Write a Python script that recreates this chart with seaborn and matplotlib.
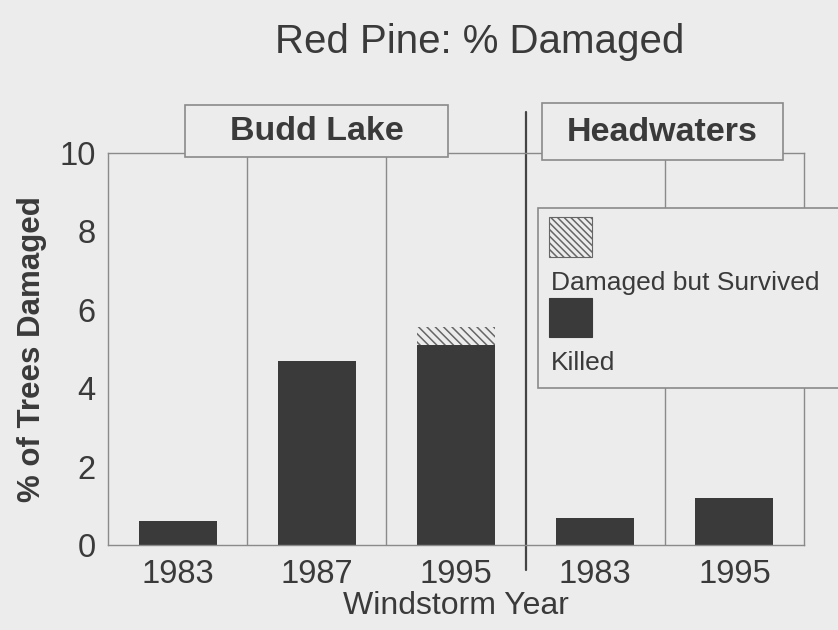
import numpy as np
import pandas as pd
import matplotlib
matplotlib.use("Agg")
import matplotlib.pyplot as plt
import seaborn as sns
from matplotlib.patches import Rectangle

# data
sites = ['Budd Lake', 'Budd Lake', 'Budd Lake', 'Headwaters', 'Headwaters']
years = ['1983', '1987', '1995', '1983', '1995']
killed = [0.6, 4.7, 5.1, 0.7, 1.2]
survived = [0.0, 0.0, 0.45, 0.0, 0.0]

df = pd.DataFrame({'site': sites, 'year': years, 'killed': killed, 'survived': survived})
df['key'] = df['site'] + ' ' + df['year']
df['total'] = df['killed'] + df['survived']

sns.set_style("white")
plt.rcParams['font.family'] = ['Liberation Sans', 'DejaVu Sans']
plt.rcParams['hatch.linewidth'] = 1.1

bg = '#ececec'
bar_col = '#3a3a3a'
line_col = '#8a8a8a'
txt_col = '#3a3a3a'
hatch_col = '#666666'

W, H = 838, 630
def fx(x):
    return x / W
def fy(y):
    return 1 - y / H

fig = plt.figure(figsize=(8.38, 6.3), dpi=100, facecolor=bg)
ax = fig.add_axes([fx(108), fy(545), fx(804) - fx(108), fy(153) - fy(545)])
ax.set_facecolor(bg)

# hatched part = total height, killed bar drawn over it
sns.barplot(data=df, x='key', y='total', color=bg, saturation=1, edgecolor=hatch_col,
            hatch='\\\\\\\\', linewidth=0, width=0.56, ax=ax)
sns.barplot(data=df, x='key', y='killed', color=bar_col, saturation=1,
            linewidth=0, width=0.56, ax=ax)

ax.set_xlim(-0.5, len(df) - 0.5)
ax.set_ylim(0, 10)
ax.set_yticks(np.arange(0, 11, 2))
ax.set_xticks(range(len(df)))
ax.set_xticklabels(years)
ax.set_xticks(np.arange(-0.5, len(df), 1), minor=True)
ax.tick_params(axis='x', which='major', length=0, pad=10, labelsize=23.5, labelcolor=txt_col)
ax.tick_params(axis='x', which='minor', length=8, width=1, color=line_col, direction='out')
ax.tick_params(axis='y', length=0, pad=9, labelsize=23.5, labelcolor=txt_col)

for s in ax.spines.values():
    s.set_color(line_col)
    s.set_linewidth(1)

# column dividers
for b in [0.5, 1.5, 3.5]:
    ax.axvline(b, color=line_col, lw=1, zorder=0)
ax.axvline(2.5, ymin=-(570 - 545) / 392, ymax=(545 - 112) / 392, color='#444444', lw=1.6,
           clip_on=False, zorder=0)

ax.set_xlabel('Windstorm Year', fontsize=23, color=txt_col, labelpad=1)
ax.set_ylabel('% of Trees Damaged', fontsize=22.5, fontweight='bold', color=txt_col, labelpad=9)

fig.text(fx(480), fy(42), 'Red Pine: % Damaged', fontsize=29, color=txt_col,
         ha='center', va='center')

# panel label boxes
for name, x0, x1, y0, y1 in [('Budd Lake', 185, 448, 105, 157),
                             ('Headwaters', 542, 783, 103, 160)]:
    fig.add_artist(Rectangle((fx(x0), fy(y1)), fx(x1) - fx(x0), fy(y0) - fy(y1),
                             transform=fig.transFigure, facecolor=bg,
                             edgecolor=line_col, lw=1.2, zorder=5))
    fig.text(fx((x0 + x1) / 2), fy((y0 + y1) / 2 + 1), name, fontsize=24.5,
             fontweight='bold', color=txt_col, ha='center', va='center', zorder=6)

# legend, handles above labels
fig.add_artist(Rectangle((fx(538), fy(388)), fx(840) - fx(538), fy(208) - fy(388),
                         transform=fig.transFigure, facecolor=bg,
                         edgecolor=line_col, lw=1.2, zorder=5))
fig.add_artist(Rectangle((fx(549), fy(257)), fx(592) - fx(549), fy(217) - fy(257),
                         transform=fig.transFigure, facecolor=bg, edgecolor=hatch_col,
                         hatch='\\\\\\\\\\', lw=0.8, zorder=6))
fig.add_artist(Rectangle((fx(549), fy(337)), fx(592) - fx(549), fy(298) - fy(337),
                         transform=fig.transFigure, facecolor=bar_col,
                         edgecolor=bar_col, lw=0.8, zorder=6))
fig.text(fx(551), fy(283), 'Damaged but Survived', fontsize=19, color=txt_col,
         ha='left', va='center', zorder=7)
fig.text(fx(551), fy(363), 'Killed', fontsize=19, color=txt_col,
         ha='left', va='center', zorder=7)

fig.savefig('out.png', dpi=100, facecolor=bg)
